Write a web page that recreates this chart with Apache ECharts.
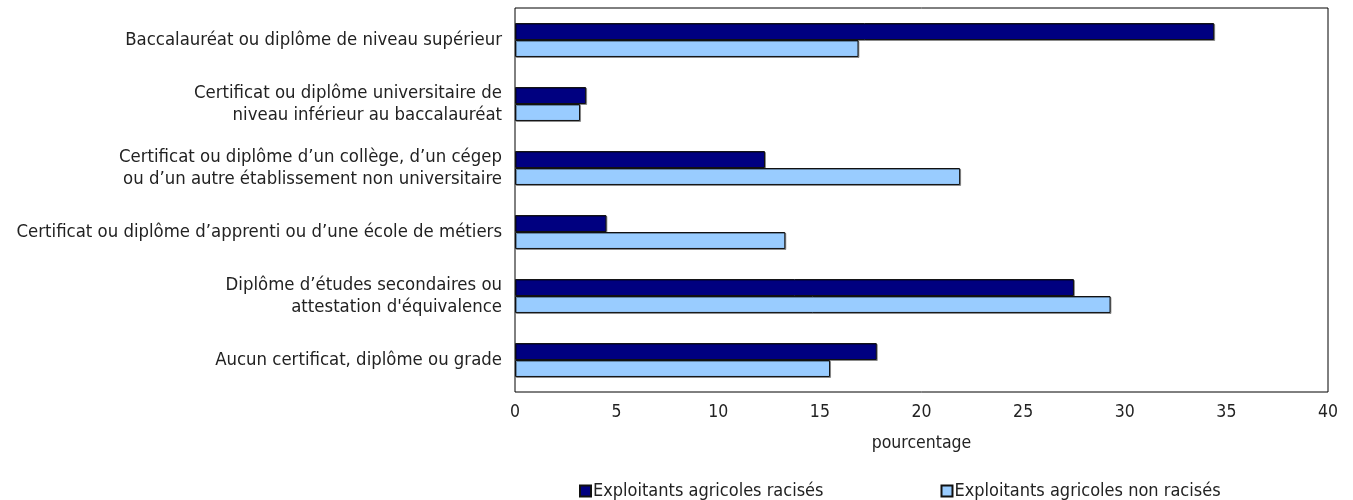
<!DOCTYPE html>
<html><head><meta charset="utf-8">
<script src="https://cdn.jsdelivr.net/npm/echarts@6/dist/echarts.min.js"></script>
<style>html,body{margin:0;padding:0;background:#fff}#c{width:1353px;height:500px}</style>
</head><body><div id="c"></div>
<script>
const categories = [
  "Baccalauréat ou diplôme de niveau supérieur",
  "Certificat ou diplôme universitaire de\nniveau inférieur au baccalauréat",
  "Certificat ou diplôme d\u2019un collège, d\u2019un cégep\nou d\u2019un autre établissement non universitaire",
  "Certificat ou diplôme d\u2019apprenti ou d\u2019une école de métiers",
  "Diplôme d\u2019études secondaires ou\nattestation d'équivalence",
  "Aucun certificat, diplôme ou grade"
];
const seriesNames = ["Exploitants agricoles racisés", "Exploitants agricoles non racisés"];
const racises = [34.4, 3.5, 12.3, 4.5, 27.5, 17.8];
const nonRacises = [16.9, 3.2, 21.9, 13.3, 29.3, 15.5];
const xTicks = [0, 5, 10, 15, 20, 25, 30, 35, 40];

const FONT = "'Liberation Sans Narrow', 'DejaVu Sans Condensed', sans-serif";
const chart = echarts.init(document.getElementById('c'));
chart.setOption({
  animation: false,
  textStyle: { fontFamily: FONT },
  grid: { left: 515, right: 25, top: 8, bottom: 108, show: true, borderColor: '#000', borderWidth: 1, backgroundColor: 'transparent' },
  xAxis: {
    type: 'value', min: xTicks[0], max: xTicks[xTicks.length - 1], interval: 5,
    name: 'pourcentage', nameLocation: 'middle', nameGap: 42,
    nameTextStyle: { fontSize: 17.5, color: '#222', fontFamily: FONT },
    axisLine: { show: false }, axisTick: { show: false }, splitLine: { show: false },
    axisLabel: { fontSize: 17.5, color: '#222', margin: 11, fontFamily: FONT }
  },
  yAxis: {
    type: 'category', data: categories, inverse: true,
    axisLine: { show: false }, axisTick: { show: false },
    axisLabel: { fontSize: 18.4, color: '#222', margin: 13, lineHeight: 22, align: 'right', fontFamily: FONT }
  },
  legend: {
    left: 574, top: 477, itemWidth: 11, itemHeight: 11, itemGap: 117,
    textStyle: { fontSize: 18, color: '#222', fontFamily: FONT, padding: [0,0,0,-3] },
    data: seriesNames.map(n => ({ name: n, icon: 'rect' }))
  },
  series: [
    { name: seriesNames[0], type: 'bar', data: racises, barGap: '0%', barCategoryGap: '47%',
      itemStyle: { color: '#000080', borderColor: '#111', borderWidth: 1,
        shadowColor: 'rgba(0,0,0,0.35)', shadowOffsetX: 1, shadowOffsetY: 1 } },
    { name: seriesNames[1], type: 'bar', data: nonRacises, barGap: '0%', barCategoryGap: '47%',
      itemStyle: { color: '#99CCFF', borderColor: '#111', borderWidth: 1,
        shadowColor: 'rgba(0,0,0,0.35)', shadowOffsetX: 1, shadowOffsetY: 1 } }
  ]
});
</script></body></html>
